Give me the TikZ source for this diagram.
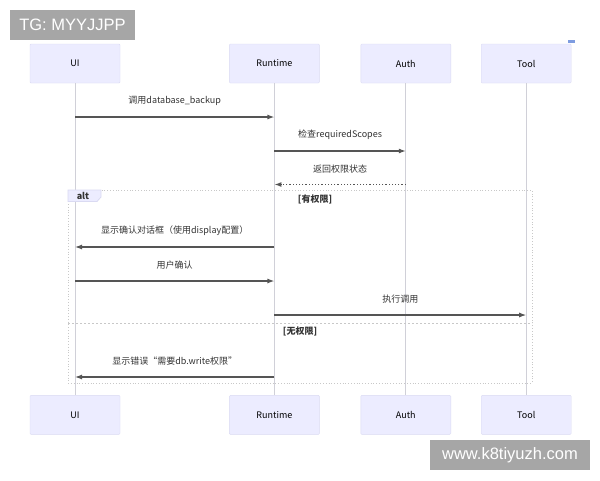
\documentclass[tikz,border=0pt]{standalone}
\usepackage{fontspec}
\setmainfont{Noto Sans CJK SC}
\newfontfamily\markfont{Liberation Sans}
\usetikzlibrary{positioning,arrows.meta}

\definecolor{actorfill}{HTML}{ECECFF}
\definecolor{actorline}{HTML}{DADAF2}
\definecolor{lifegray}{HTML}{D0D0D8}
\definecolor{msggray}{HTML}{555555}
\definecolor{textgray}{HTML}{333333}
\definecolor{framegray}{HTML}{C8C8C8}
\definecolor{markgray}{HTML}{A6A6A6}
\definecolor{markblue}{HTML}{7E9CE0}

\tikzset{
	actor/.style = {draw=actorline, fill=actorfill, rounded corners=1pt,
		minimum width=90pt, minimum height=39pt, text=black,
		font=\fontsize{9}{10}\selectfont},
	life/.style = {draw=lifegray, line width=0.9pt},
	msg/.style = {draw=msggray, line width=1.2pt, -{Latex[length=7pt,width=5pt]}},
	reply/.style = {msg, dotted},
	note/.style = {above=11pt, inner sep=0pt, text=textgray,
		font=\fontsize{9}{10}\selectfont},
	frame/.style = {draw=framegray, dotted, line width=0.8pt},
	guard/.style = {text=textgray, inner sep=0pt, font=\fontsize{9}{10}\selectfont\bfseries},
	watermark/.style = {fill=markgray, text=white, inner sep=0pt,
		font=\markfont\fontsize{16.5}{18}\selectfont},
}

\begin{document}
\begin{tikzpicture}[x=1pt, y=-1pt]
	\useasboundingbox[fill=white] (0,0) rectangle (600,480);

	% participants
	\node [actor] (ui) at (75,63.5) {UI};
	\node [actor, right = 109pt of ui] (rt) {Runtime};
	\node [actor, right = 41pt of rt] (auth) {Auth};
	\node [actor, right = 30pt of auth] (tool) {Tool};

	\node [actor, below = 312pt of ui] (ui2) {UI};
	\node [actor, below = 312pt of rt] (rt2) {Runtime};
	\node [actor, below = 312pt of auth] (auth2) {Auth};
	\node [actor, below = 312pt of tool] (tool2) {Tool};

	\draw [life] (ui) -- (ui2);
	\draw [life] (rt) -- (rt2);
	\draw [life] (auth) -- (auth2);
	\draw [life] (tool) -- (tool2);

	% alt frame
	\coordinate (altnw) at (68,190);
	\coordinate (altse) at (532,383);
	\draw [frame] (altnw) rectangle (altse);
	\draw [frame, solid, draw=actorline, fill=actorfill]
		(68,190) -- (101,190) -- (101,197) -- (97,201.5) -- (68,201.5) -- cycle;
	\node [guard] (alttag) at (83,196) {alt};
	\node [guard] (yes) at (315,199) {[有权限]};
	\draw [frame, dashed, dash pattern=on 2pt off 2pt] (68,323) -- (532,323);
	\node [guard] (no) at (300,331.5) {[无权限]};

	% messages
	\coordinate (m1) at (0,117);
	\coordinate (m2) at (0,151);
	\coordinate (m3) at (0,184.5);
	\coordinate (m4) at (0,247);
	\coordinate (m5) at (0,281);
	\coordinate (m6) at (0,315);
	\coordinate (m7) at (0,377);

	\draw [msg] (ui |- m1) -- node [note] {调用database\_backup} (rt |- m1);
	\draw [msg] (rt |- m2) -- node [note] {检查requiredScopes} (auth |- m2);
	\draw [reply] (auth |- m3) -- node [note] {返回权限状态} (rt |- m3);
	\draw [msg] (rt |- m4) -- node [note] {显示确认对话框（使用display配置）} (ui |- m4);
	\draw [msg] (ui |- m5) -- node [note] {用户确认} (rt |- m5);
	\draw [msg] (rt |- m6) -- node [note] {执行调用} (tool |- m6);
	\draw [msg] (rt |- m7) -- node [note] {显示错误“需要db.write权限”} (ui |- m7);

	% watermarks
	\node [watermark, minimum width=125pt, minimum height=30pt] (tg) at (72.5,25) {TG: MYYJJPP};
	\node [watermark, minimum width=160pt, minimum height=30pt] (site) at (510,455) {www.k8tiyuzh.com};
	\fill [markblue] (568,39.5) rectangle (575,43);
\end{tikzpicture}
\end{document}
